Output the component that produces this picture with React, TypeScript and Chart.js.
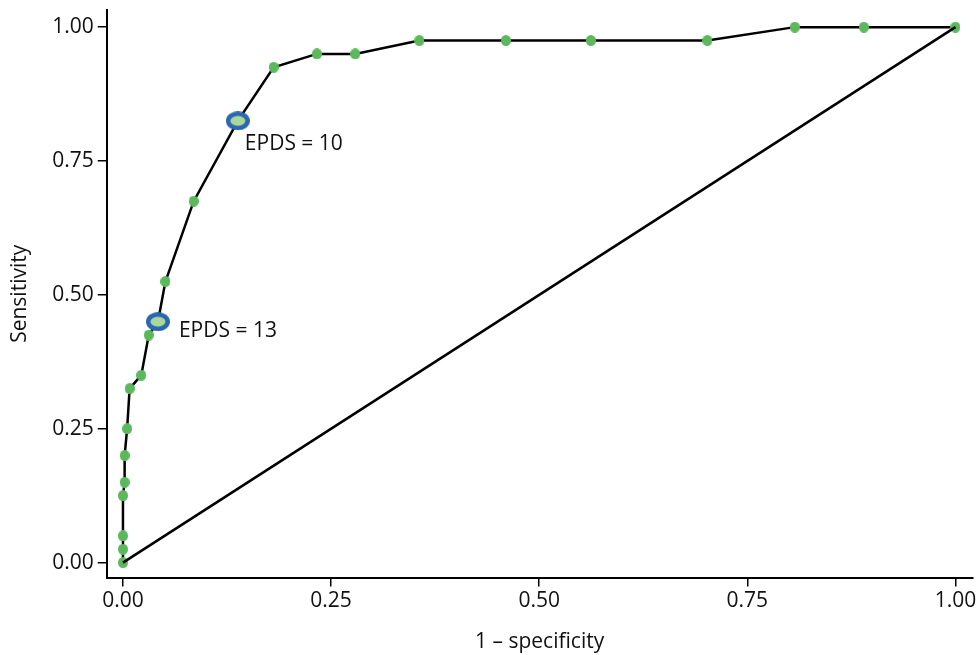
import React, { useEffect, useRef } from "react";
import { Chart, registerables } from "chart.js";

Chart.register(...registerables);

const fpr = [0, 0, 0, 0, 0.002, 0.002, 0.005, 0.008, 0.022, 0.031, 0.042, 0.051, 0.085, 0.138, 0.181, 0.233, 0.279, 0.356, 0.46, 0.562, 0.702, 0.807, 0.89, 1.0];
const tpr = [0, 0.025, 0.05, 0.125, 0.15, 0.2, 0.25, 0.325, 0.35, 0.425, 0.45, 0.525, 0.675, 0.825, 0.925, 0.95, 0.95, 0.975, 0.975, 0.975, 0.975, 1, 1, 1];
const highlightIndex = [13, 10];
const highlightLabels = ["EPDS = 10", "EPDS = 13"];
const diagX = [0, 1];
const diagY = [0, 1];
const tickValues = [0, 0.25, 0.5, 0.75, 1];
const xTitle = "1 – specificity";
const yTitle = "Sensitivity";

const FONT = "'Open Sans', 'Noto Sans', sans-serif";
// label offsets (style) in px relative to the highlighted point
const labelOffsets = [
  { dx: 7, dy: 23 },
  { dx: 21, dy: 9 },
];

function ellipseImage(w: number, h: number, fill: string, stroke?: string, lw = 0) {
  const c = document.createElement("canvas");
  c.width = w;
  c.height = h;
  const ctx = c.getContext("2d")!;
  ctx.beginPath();
  ctx.ellipse(w / 2, h / 2, w / 2 - lw / 2, h / 2 - lw / 2, 0, 0, Math.PI * 2);
  ctx.fillStyle = fill;
  ctx.fill();
  if (stroke) {
    ctx.lineWidth = lw;
    ctx.strokeStyle = stroke;
    ctx.stroke();
  }
  return c;
}

export default function App() {
  const ref = useRef<HTMLCanvasElement>(null);
  useEffect(() => {
    const green = ellipseImage(10, 11, "#5cb85c");
    const big = ellipseImage(24, 19, "#a9d89a", "#2a67b0", 4.5);
    const labelPlugin = {
      id: "epdsLabels",
      afterDatasetsDraw(chart: any) {
        const ctx = chart.ctx;
        const xs = chart.scales.x;
        const ys = chart.scales.y;
        ctx.save();
        ctx.font = `21px ${FONT}`;
        ctx.fillStyle = "#111";
        ctx.textBaseline = "middle";
        ctx.textAlign = "left";
        highlightIndex.forEach((idx, k) => {
          const px = xs.getPixelForValue(fpr[idx]);
          const py = ys.getPixelForValue(tpr[idx]);
          ctx.fillText(highlightLabels[k], px + labelOffsets[k].dx, py + labelOffsets[k].dy);
        });
        ctx.restore();
      },
    };
    const chart = new Chart(ref.current!, {
      type: "scatter",
      data: {
        datasets: [
          {
            data: diagX.map((x, i) => ({ x, y: diagY[i] })),
            showLine: true,
            borderColor: "#000",
            borderWidth: 2.5,
            pointRadius: 0,
          },
          {
            data: fpr.map((x, i) => ({ x, y: tpr[i] })),
            showLine: true,
            borderColor: "#000",
            borderWidth: 2.5,
            pointStyle: fpr.map((_, i) => (highlightIndex.includes(i) ? big : green)) as any,
            pointRadius: 5,
          },
        ],
      },
      options: {
        animation: false,
        responsive: false,
        maintainAspectRatio: false,
        layout: { padding: { top: 10, right: 2, left: 4, bottom: 0 } },
        plugins: { legend: { display: false }, tooltip: { enabled: false } },
        scales: {
          x: {
            type: "linear",
            min: -0.0195,
            max: 1.0205,
            afterBuildTicks: (s: any) => {
              s.ticks = tickValues.map((v) => ({ value: v }));
            },
            ticks: {
              color: "#111",
              font: { family: FONT, size: 21 },
              callback: (v: any) => Number(v).toFixed(2),
              maxRotation: 0,
              padding: 2,
            },
            grid: { drawOnChartArea: false, drawTicks: true, tickLength: 9, color: "#000", lineWidth: 1.5 },
            border: { display: true, color: "#000", width: 2 },
            title: { display: true, text: xTitle, color: "#111", font: { family: FONT, size: 21 }, padding: { top: 14, bottom: 0 } },
          },
          y: {
            type: "linear",
            min: -0.028,
            max: 1.032,
            afterBuildTicks: (s: any) => {
              s.ticks = tickValues.map((v) => ({ value: v }));
            },
            ticks: {
              color: "#111",
              font: { family: FONT, size: 21, lineHeight: 0.5 },
              callback: (v: any) => Number(v).toFixed(2),
              padding: 4,
            },
            grid: { drawOnChartArea: false, drawTicks: true, tickLength: 9, color: "#000", lineWidth: 1.5 },
            border: { display: true, color: "#000", width: 2 },
            title: { display: true, text: yTitle, color: "#111", font: { family: FONT, size: 21 }, padding: { top: 3, bottom: 16 } },
          },
        },
      },
      plugins: [labelPlugin],
    } as any);
    return () => chart.destroy();
  }, []);
  return (
    <div style={{ position: "fixed", left: 0, top: 0, width: 980, height: 655, background: "#fff" }}>
      <canvas ref={ref} width={980} height={655} style={{ width: 980, height: 655 }} />
    </div>
  );
}
